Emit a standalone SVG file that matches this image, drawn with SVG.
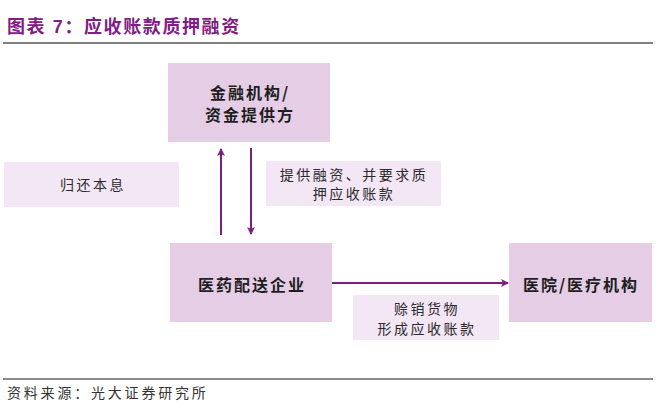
<svg xmlns="http://www.w3.org/2000/svg" width="664" height="411" viewBox="0 0 664 411">
<style>
.t{font-family:"Liberation Sans","Noto Sans CJK SC",sans-serif;fill:#801c84;font-weight:bold;font-size:18px;letter-spacing:1.6px}
.n{fill:#e4cde5}
.l{fill:#f3e6f5}
.nt{font-family:"Noto Sans CJK SC",sans-serif;font-weight:bold;font-size:16px;fill:#1e1e1e;text-anchor:middle;letter-spacing:2px}
.lt{font-family:"Noto Sans CJK SC",sans-serif;font-size:14px;fill:#2a2a2a;text-anchor:middle;letter-spacing:2.5px}
.src{font-family:"Noto Sans CJK SC",sans-serif;font-size:14px;fill:#333;letter-spacing:2.8px}
.c{stroke:#7a1f7e;stroke-width:2;fill:none}
</style>
<defs>
<marker id="ah" viewBox="0 0 8 8" refX="7" refY="4" markerWidth="8" markerHeight="8" markerUnits="userSpaceOnUse" orient="auto">
<path d="M0,0 L8,4 L0,8 L2,4 Z" fill="#7a1f7e"/>
</marker>
</defs>
<rect width="664" height="411" fill="#fff"/>
<text class="t" x="7" y="33">图表 7：应收账款质押融资</text>
<line x1="3" y1="43" x2="653" y2="43" stroke="#555" stroke-width="1.6"/>
<g id="node-bank">
<rect class="n" x="168" y="63" width="162" height="79"/>
<text class="nt" x="250" y="99">金融机构/</text>
<text class="nt" x="250" y="121">资金提供方</text>
</g>
<g id="node-repay">
<rect class="l" x="4" y="162" width="175" height="45"/>
<text class="lt" x="93" y="190">归还本息</text>
</g>
<g id="node-finance-label">
<rect class="l" x="266" y="161" width="175" height="45"/>
<text class="lt" x="354" y="180">提供融资、并要求质</text>
<text class="lt" x="354" y="199">押应收账款</text>
</g>
<g id="node-distributor">
<rect class="n" x="170" y="243" width="162" height="79"/>
<text class="nt" x="252" y="291">医药配送企业</text>
</g>
<g id="node-hospital">
<rect class="n" x="509" y="243" width="143" height="79"/>
<text class="nt" x="581" y="291">医院/医疗机构</text>
</g>
<g id="node-credit-label">
<rect class="l" x="353" y="295" width="146" height="45"/>
<text class="lt" x="427" y="314">赊销货物</text>
<text class="lt" x="427" y="334">形成应收账款</text>
</g>
<g id="connectors">
<line class="c" x1="221" y1="235" x2="221" y2="149" marker-end="url(#ah)"/>
<line class="c" x1="251" y1="148" x2="251" y2="234" marker-end="url(#ah)"/>
<line class="c" x1="332" y1="283" x2="508" y2="283" marker-end="url(#ah)"/>
</g>
<line x1="3" y1="379" x2="653" y2="379" stroke="#666" stroke-width="1.4"/>
<text class="src" x="7" y="398">资料来源：光大证券研究所</text>
</svg>
